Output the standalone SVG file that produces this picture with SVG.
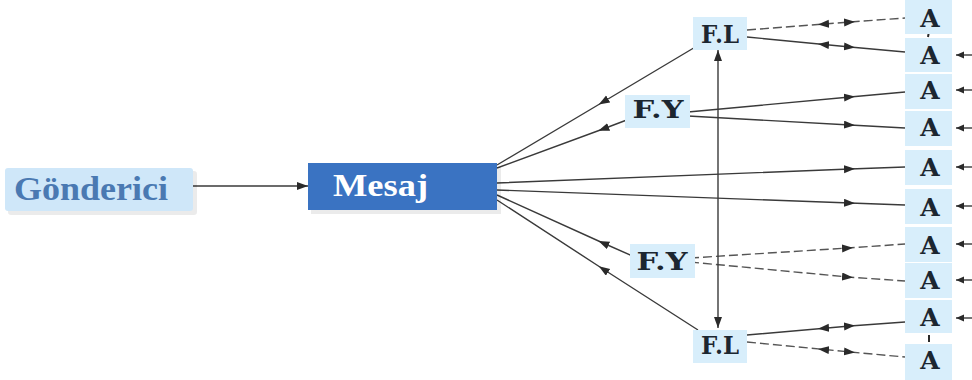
<svg xmlns="http://www.w3.org/2000/svg" width="972" height="380" viewBox="0 0 972 380">
  <style>
    .bg { fill: #ffffff; }
    .lbox { fill: #d8eefb; }
    .shadow { fill: #000000; opacity: 0.08; }
    .serif { font-family: "Liberation Serif", "DejaVu Serif", serif; font-weight: bold; }
    .mono { font-family: "DejaVu Serif", "Liberation Serif", serif; font-weight: bold; fill: #1c2630; text-anchor: middle; }
    .ln { fill: none; stroke: #3a3a3a; stroke-width: 1.4; }
    .dash { stroke-dasharray: 9 4; stroke: #555555; }
    .mid { marker-mid: url(#head); }
    .ghost { fill: none; stroke: none; marker-mid: url(#head); }
  </style>
  <defs>
    <marker id="head" markerUnits="userSpaceOnUse" markerWidth="12" markerHeight="10" refX="6" refY="4" orient="auto">
      <path d="M0,0 L11,4 L0,8 Z" fill="#2a2a2a"/>
    </marker>
    <marker id="tip" markerUnits="userSpaceOnUse" markerWidth="12" markerHeight="10" refX="11" refY="4" orient="auto-start-reverse">
      <path d="M0,0 L11,4 L0,8 Z" fill="#2a2a2a"/>
    </marker>
    <marker id="dot" markerUnits="userSpaceOnUse" markerWidth="10" markerHeight="8" refX="8" refY="3.5" orient="auto">
      <path d="M0,0 L8,3.5 L0,7 Z" fill="#2a2a2a"/>
    </marker>
  </defs>

  <rect class="bg" x="0" y="0" width="972" height="380"/>

  <!-- connectors -->
  <g id="connectors">
    <!-- sender to message -->
    <path class="ln" d="M193,186 L308,186" marker-end="url(#tip)"/>
    <!-- F.L / F.Y back to message -->
    <path class="ln mid" d="M697,46 L603,102 L497,165"/>
    <path class="ln mid" d="M632,118 L603,129 L497,168"/>
    <path class="ln mid" d="M637,258 L603,243 L497,195"/>
    <path class="ln mid" d="M698,330 L603,269 L497,200"/>
    <!-- message to A nodes -->
    <path class="ln mid" d="M497,183 L850,169 L905,167"/>
    <path class="ln mid" d="M497,190 L850,203 L905,205"/>
    <!-- upper F.Y to A nodes -->
    <path class="ln mid" d="M688,112 L850,97 L905,92"/>
    <path class="ln mid" d="M688,116 L850,125 L905,128"/>
    <!-- upper F.L with A nodes, both ways -->
    <path class="ln dash mid" d="M747,30 L850,22 L905,18"/>
    <path class="ghost" d="M905,18 L823,24.2 L747,30"/>
    <path class="ln mid" d="M747,37 L850,47 L905,52"/>
    <path class="ghost" d="M905,52 L823,44.5 L747,37"/>
    <!-- lower F.Y to A nodes -->
    <path class="ln dash mid" d="M690,258 L848,248 L905,244"/>
    <path class="ln dash mid" d="M690,262 L848,277 L905,281"/>
    <!-- lower F.L with A nodes, both ways -->
    <path class="ln mid" d="M747,335 L850,326 L905,322"/>
    <path class="ghost" d="M905,322 L823,328.3 L747,335"/>
    <path class="ln dash mid" d="M747,342 L850,352 L905,357"/>
    <path class="ghost" d="M905,357 L823,349.5 L747,342"/>
    <!-- F.L to F.L -->
    <path class="ln" d="M718,50 L718,328" stroke-width="1.8" marker-start="url(#tip)" marker-end="url(#tip)"/>
    <!-- incoming stubs on the right -->
    <path class="ln" d="M972,55 L956,55" marker-end="url(#dot)"/>
    <path class="ln" d="M972,90 L956,90" marker-end="url(#dot)"/>
    <path class="ln" d="M972,128 L956,128" marker-end="url(#dot)"/>
    <path class="ln" d="M972,167 L956,167" marker-end="url(#dot)"/>
    <path class="ln" d="M972,206 L956,206" marker-end="url(#dot)"/>
    <path class="ln" d="M972,244 L956,244" marker-end="url(#dot)"/>
    <path class="ln" d="M972,280 L956,280" marker-end="url(#dot)"/>
    <path class="ln" d="M972,318 L956,318" marker-end="url(#dot)"/>
    <!-- small ticks between stacked A nodes -->
    <path d="M929,31 L928,37" stroke="#2a2a2a" stroke-width="2"/>
    <path d="M929,335 L929,342" stroke="#2a2a2a" stroke-width="2"/>
  </g>

  <g id="gonderici">
    <rect class="shadow" x="8" y="171" width="189" height="44" rx="3"/>
    <rect x="5" y="168" width="188" height="43" rx="3" fill="#cfe7f9"/>
    <text class="serif" x="14" y="200" font-size="33" fill="#4a79b2" textLength="154" lengthAdjust="spacingAndGlyphs">Gönderici</text>
  </g>

  <g id="mesaj">
    <rect class="shadow" x="311" y="167" width="190" height="47"/>
    <rect x="308" y="163" width="189" height="47" fill="#3a73c2"/>
    <text class="serif" x="333" y="196" font-size="32" fill="#ffffff" textLength="95" lengthAdjust="spacingAndGlyphs">Mesaj</text>
  </g>

  <g id="fl-top">
    <rect class="lbox" x="693" y="17" width="54" height="33"/>
    <text class="mono" x="720" y="43" font-size="24" textLength="38" lengthAdjust="spacingAndGlyphs">F.L</text>
  </g>
  <g id="fy-top">
    <rect class="lbox" x="625" y="95" width="65" height="33"/>
    <text class="mono" x="658" y="118" font-size="25" textLength="51" lengthAdjust="spacingAndGlyphs">F.Y</text>
  </g>
  <g id="fy-bottom">
    <rect class="lbox" x="630" y="244" width="65" height="34"/>
    <text class="mono" x="662" y="270" font-size="25" textLength="51" lengthAdjust="spacingAndGlyphs">F.Y</text>
  </g>
  <g id="fl-bottom">
    <rect class="lbox" x="693" y="330" width="54" height="33"/>
    <text class="mono" x="720" y="354" font-size="24" textLength="38" lengthAdjust="spacingAndGlyphs">F.L</text>
  </g>

  <g id="a1"><rect class="lbox" x="905" y="0" width="47" height="34"/><text class="mono" x="930" y="27" font-size="25">A</text></g>
  <g id="a2"><rect class="lbox" x="905" y="38" width="47" height="34"/><text class="mono" x="930" y="64" font-size="25">A</text></g>
  <g id="a3"><rect class="lbox" x="905" y="74" width="47" height="35"/><text class="mono" x="930" y="99" font-size="25">A</text></g>
  <g id="a4"><rect class="lbox" x="905" y="111" width="47" height="35"/><text class="mono" x="930" y="136" font-size="25">A</text></g>
  <g id="a5"><rect class="lbox" x="905" y="150" width="47" height="35"/><text class="mono" x="930" y="176" font-size="25">A</text></g>
  <g id="a6"><rect class="lbox" x="905" y="189" width="47" height="35"/><text class="mono" x="930" y="216" font-size="25">A</text></g>
  <g id="a7"><rect class="lbox" x="905" y="227" width="47" height="35"/><text class="mono" x="930" y="254" font-size="25">A</text></g>
  <g id="a8"><rect class="lbox" x="905" y="263" width="47" height="35"/><text class="mono" x="930" y="289" font-size="25">A</text></g>
  <g id="a9"><rect class="lbox" x="905" y="300" width="47" height="33"/><text class="mono" x="930" y="326" font-size="25">A</text></g>
  <g id="a10"><rect class="lbox" x="905" y="344" width="47" height="36"/><text class="mono" x="930" y="369" font-size="25">A</text></g>
</svg>
